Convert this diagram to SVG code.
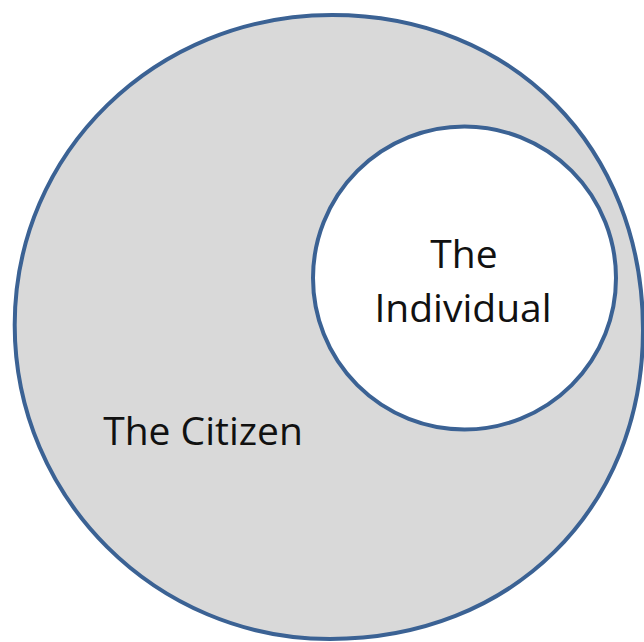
<svg xmlns="http://www.w3.org/2000/svg" width="644" height="642" viewBox="0 0 644 642">
  <style>
    .ring { stroke: #3b6294; stroke-width: 4; }
    .lbl { font-family: "Open Sans", "Liberation Sans", sans-serif; font-size: 39px; fill: #111111; text-anchor: middle; }
  </style>
  <rect x="0" y="0" width="644" height="642" fill="#ffffff"/>
  <g id="citizen">
    <path class="ring" fill="#d9d9d9" d="M332,15 C512.4,15 643,147.3 643,330 C643,509.2 511.5,639 330,639 C156,639 14.7,498 14.7,325 C14.7,152 156,15 332,15 Z"/>
    <text class="lbl" x="203" y="445">The Citizen</text>
  </g>
  <g id="individual">
    <circle class="ring" cx="464.5" cy="278" r="151.5" fill="#ffffff"/>
    <text class="lbl" x="464" y="268">The</text>
    <text class="lbl" x="463" y="322">Individual</text>
  </g>
  <g id="connectors"></g>
</svg>
